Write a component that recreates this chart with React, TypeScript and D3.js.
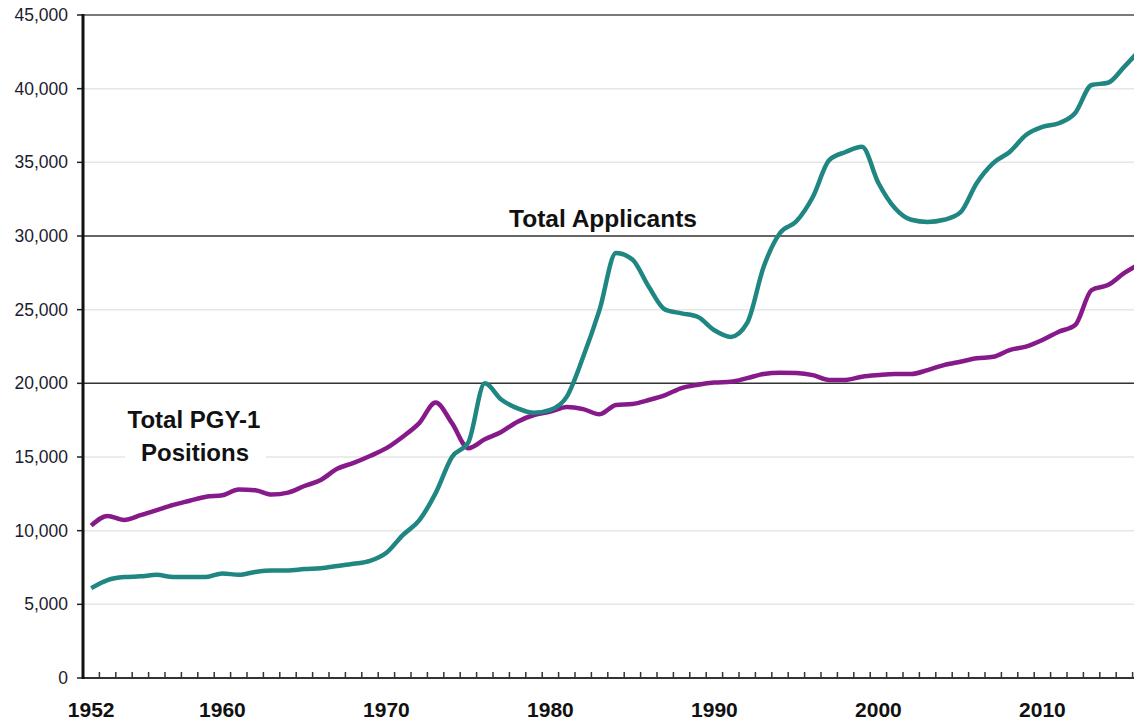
import * as d3 from 'd3';

// years 1952..2016, one value per year
const startYear = 1952;
const applicants = [
  6100, 6650, 6850, 6900, 7000, 6850, 6850, 6850, 7100, 7000,
  7200, 7300, 7300, 7400, 7450, 7600, 7750, 7950, 8500, 9700,
  10700, 12550, 15000, 16000, 20000, 18900, 18300, 18000, 18200, 19100,
  21800, 25000, 28850, 28400, 26550, 25000, 24750, 24500, 23600, 23150,
  24100, 27900, 30200, 31000, 32650, 35150, 35700, 36050, 33600, 31900,
  31100, 30950, 31100, 31600, 33600, 34950, 35700, 36850, 37400, 37650,
  38350, 40250, 40400, 41500, 42700,
];
const positions = [
  10340, 11000, 10730, 11050, 11400, 11750, 12030, 12300, 12400, 12800,
  12750, 12450, 12580, 13030, 13440, 14200, 14600, 15070, 15600, 16380,
  17300, 18700, 17300, 15600, 16200, 16700, 17400, 17850, 18080, 18400,
  18250, 17900, 18530, 18600, 18870, 19200, 19680, 19900, 20050, 20100,
  20350, 20630, 20720, 20700, 20560, 20230, 20230, 20450, 20560, 20630,
  20630, 20900, 21240, 21470, 21700, 21800, 22260, 22490, 22940, 23500,
  23960, 26330, 26670, 27490, 28150,
];
const yTicks = [0, 5000, 10000, 15000, 20000, 25000, 30000, 35000, 40000, 45000];
const darkGrid = [20000, 30000];
const xLabels = [1952, 1960, 1970, 1980, 1990, 2000, 2010];

const W = 1134;
const H = 721;
const axisX = 83;
const step = 16.4;

export default function App() {
  const years = applicants.map((_, i) => startYear + i);
  const endYear = years[years.length - 1];

  const x = d3
    .scaleLinear()
    .domain([startYear, endYear])
    .range([axisX + step / 2, axisX + step / 2 + (endYear - startYear) * step]);
  const y = d3.scaleLinear().domain([0, 45000]).range([678, 15]);

  const line = d3
    .line<number>()
    .x((_, i) => x(years[i]))
    .y((d) => y(d))
    .curve(d3.curveMonotoneX);

  const fmt = d3.format(',');
  const font = 'Liberation Sans, Arial, sans-serif';
  const tickYears = d3.range(startYear, endYear + 1);

  return (
    <div style={{ position: 'absolute', left: 0, top: 0 }}>
      <svg width={W} height={H} style={{ display: 'block', background: '#fff' }} fontFamily={font}>
        {/* gridlines */}
        {yTicks.filter((t) => t > 0).map((t) => {
          const dark = darkGrid.includes(t);
          const top = t === 45000;
          return (
            <line
              key={t}
              x1={axisX}
              x2={W}
              y1={y(t)}
              y2={y(t)}
              stroke={top ? '#7a7a7a' : dark ? '#333' : '#e6e6e6'}
              strokeWidth={top ? 2 : 1.5}
            />
          );
        })}

        {/* y axis */}
        {yTicks.map((t) => (
          <g key={t}>
            <line x1={axisX - 6} x2={axisX} y1={y(t)} y2={y(t)} stroke="#222" strokeWidth={1.5} />
            <text x={68} y={y(t)} dy="0.35em" textAnchor="end" fontSize={17.5} fill="#1c1c30">
              {fmt(t)}
            </text>
          </g>
        ))}

        {/* x axis */}
        <line x1={axisX} x2={W} y1={y(0)} y2={y(0)} stroke="#333" strokeWidth={2} />
        {tickYears.map((yr) => (
          <line
            key={yr}
            x1={x(yr) + step / 2}
            x2={x(yr) + step / 2}
            y1={y(0)}
            y2={y(0) - 6}
            stroke="#333"
            strokeWidth={1.5}
          />
        ))}
        {xLabels.map((yr) => (
          <text key={yr} x={x(yr)} y={716.5} textAnchor="middle" fontSize={21} fontWeight="bold" fill="#111">
            {yr}
          </text>
        ))}
        <line x1={axisX} x2={axisX} y1={y(45000) - 1} y2={y(0) + 1} stroke="#111" strokeWidth={3} />

        {/* annotation background */}
        <rect x={125} y={404} width={141} height={62} fill="#fff" />

        {/* series */}
        <path d={line(positions) ?? ''} fill="none" stroke="#861a8a" strokeWidth={4.5} strokeLinejoin="round" />
        <path d={line(applicants) ?? ''} fill="none" stroke="#208682" strokeWidth={4.5} strokeLinejoin="round" />

        {/* labels */}
        <text x={603} y={227} textAnchor="middle" fontSize={24.5} fontWeight="bold" fill="#111">
          Total Applicants
        </text>
        <text x={194} y={428} textAnchor="middle" fontSize={24} fontWeight="bold" fill="#111">
          Total PGY-1
        </text>
        <text x={195} y={461} textAnchor="middle" fontSize={24} fontWeight="bold" fill="#111">
          Positions
        </text>
      </svg>
    </div>
  );
}
